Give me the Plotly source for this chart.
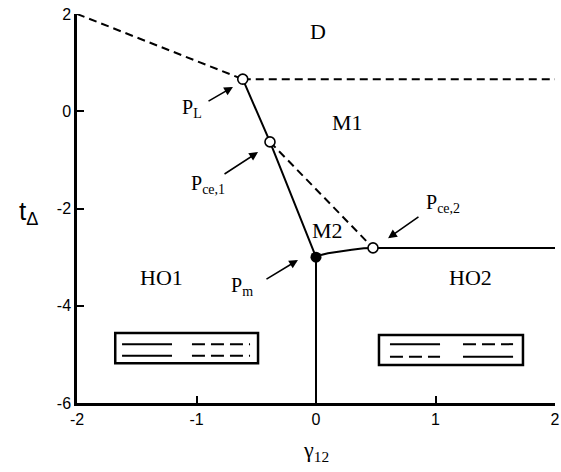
import plotly.graph_objects as go

# ---- data ----
# phase-boundary lines
dash_left_x = [-2.0, -0.613]
dash_left_y = [2.0, 0.66]
dash_top_x = [-0.613, 2.0]
dash_top_y = [0.66, 0.66]
solid_upper_x = [-0.613, -0.385, 0.0]
solid_upper_y = [0.66, -0.63, -3.0]
dash_mid_x = [-0.385, 0.477]
dash_mid_y = [-0.63, -2.81]
curve_x = [0.0, 0.05, 0.1, 0.2, 0.3, 0.4, 0.477]
curve_y = [-3.0, -2.95, -2.92, -2.88, -2.85, -2.82, -2.81]
solid_right_x = [0.477, 2.0]
solid_right_y = [-2.81, -2.81]
solid_vert_x = [0.0, 0.0]
solid_vert_y = [-3.0, -6.0]

# special points
open_pts_x = [-0.613, -0.385, 0.477]
open_pts_y = [0.66, -0.63, -2.81]
pm_x = [0.0]
pm_y = [-3.0]

# region labels
region_text = ["D", "M1", "M2", "HO1", "HO2"]
region_x = [0.02, 0.26, 0.10, -1.29, 1.29]
region_y = [1.63, -0.23, -2.45, -3.42, -3.42]

# point labels and their arrows (tail -> tip)
plabel_text = ["P<sub>L</sub>", "P<sub>ce,1</sub>", "P<sub>m</sub>", "P<sub>ce,2</sub>"]
plabel_x = [-1.04, -0.90, -0.62, 1.06]
plabel_y = [0.06, -1.50, -3.60, -1.90]
arrow_tail_x = [-0.912, -0.778, -0.427, 0.870]
arrow_tail_y = [0.19, -1.31, -3.47, -2.15]
arrow_tip_x = [-0.695, -0.485, -0.151, 0.603]
arrow_tip_y = [0.50, -0.84, -3.06, -2.61]

# schematic boxes
box_x0 = [-1.68, 0.527]
box_x1 = [-0.485, 1.732]
box_y0 = [-4.56, -4.60]
box_y1 = [-5.18, -5.22]
# line pieces inside boxes: (x0, x1, y, dashed?)
seg_x0 = [-1.623, -1.623, -1.038, -1.038, 0.619, 0.619, 1.230, 1.230]
seg_x1 = [-1.205, -1.205, -0.552, -0.552, 1.038, 1.038, 1.649, 1.649]
seg_y = [-4.79, -5.03, -4.79, -5.03, -4.79, -5.05, -4.79, -5.05]
seg_dashed = [False, False, True, True, False, True, True, False]

x_ticks = [-2, -1, 0, 1, 2]
x_ticktext = ["-2", "-1", "0", "1", "2"]
y_ticks = [-6, -4, -2, 0, 2]
y_ticktext = ["-6", "-4", "-2", "0", "2"]

# ---- figure ----
fig = go.Figure()
DASH = "8px,5px"
SERIF = "Liberation Serif, Times New Roman, serif"
SANS = "Liberation Sans, Arial, sans-serif"

def add_line(xs, ys, dash=None):
    fig.add_trace(go.Scatter(x=xs, y=ys, mode="lines",
                             line=dict(color="black", width=2, dash=dash),
                             showlegend=False, hoverinfo="skip"))

add_line(dash_left_x, dash_left_y, DASH)
add_line(dash_top_x, dash_top_y, DASH)
add_line(dash_mid_x, dash_mid_y, DASH)
add_line(solid_upper_x, solid_upper_y)
add_line(curve_x, curve_y)
add_line(solid_right_x, solid_right_y)
add_line(solid_vert_x, solid_vert_y)

fig.add_trace(go.Scatter(x=open_pts_x, y=open_pts_y, mode="markers",
                         marker=dict(size=10, color="white",
                                     line=dict(color="black", width=1.6)),
                         showlegend=False, hoverinfo="skip", cliponaxis=False))
fig.add_trace(go.Scatter(x=pm_x, y=pm_y, mode="markers",
                         marker=dict(size=11, color="black"),
                         showlegend=False, hoverinfo="skip"))

annotations = []
for t, x, y in zip(region_text, region_x, region_y):
    annotations.append(dict(x=x, y=y, text=t, showarrow=False,
                            font=dict(family=SERIF, size=22, color="black")))
for t, x, y in zip(plabel_text, plabel_x, plabel_y):
    annotations.append(dict(x=x, y=y, text=t, showarrow=False,
                            font=dict(family=SERIF, size=20, color="black")))
for tx, ty, hx, hy in zip(arrow_tail_x, arrow_tail_y, arrow_tip_x, arrow_tip_y):
    annotations.append(dict(x=hx, y=hy, ax=tx, ay=ty, axref="x", ayref="y",
                            text="", showarrow=True, arrowhead=2, arrowsize=1.1,
                            arrowwidth=1.6, arrowcolor="black"))

# axis titles (horizontal)
annotations.append(dict(xref="paper", yref="paper", x=-0.125, y=0.49,
                        text="t<sub>Δ</sub>", showarrow=False,
                        font=dict(family=SANS, size=26, color="black")))
annotations.append(dict(xref="paper", yref="paper", x=0.5, y=-0.165,
                        text="γ<sub>12</sub>", showarrow=False,
                        font=dict(family=SERIF, size=22, color="black")))

shapes = []
for x0, x1, y0, y1 in zip(box_x0, box_x1, box_y0, box_y1):
    shapes.append(dict(type="rect", x0=x0, x1=x1, y0=y0, y1=y1,
                       line=dict(color="black", width=2.5)))
for x0, x1, y, d in zip(seg_x0, seg_x1, seg_y, seg_dashed):
    shapes.append(dict(type="line", x0=x0, x1=x1, y0=y, y1=y,
                       line=dict(color="black", width=2,
                                 dash="13px,6px" if d else None)))

fig.update_layout(
    width=561, height=472,
    margin=dict(l=77, r=6, t=14, b=69, autoexpand=False),
    paper_bgcolor="white", plot_bgcolor="white",
    annotations=annotations, shapes=shapes,
    showlegend=False,
)
fig.update_xaxes(range=[-2, 2], tickvals=x_ticks, ticktext=x_ticktext,
                 ticklabeloverflow="allow", automargin=False,
                 showgrid=False, zeroline=False, showline=True,
                 linecolor="black", linewidth=2.5, mirror=False,
                 ticks="inside", ticklen=7, tickwidth=2, tickcolor="black",
                 tickfont=dict(family=SANS, size=16, color="black"))
fig.update_yaxes(range=[-6, 2], tickvals=y_ticks, ticktext=y_ticktext,
                 ticklabeloverflow="allow", automargin=False,
                 showgrid=False, zeroline=False, showline=True,
                 linecolor="black", linewidth=2.5, mirror=False,
                 ticks="inside", ticklen=7, tickwidth=2, tickcolor="black",
                 tickfont=dict(family=SANS, size=16, color="black"))

fig.write_html(
    "out.html",
    config={"displayModeBar": False},
    post_script="document.body.style.margin='0';document.body.style.overflow='hidden';",
)
